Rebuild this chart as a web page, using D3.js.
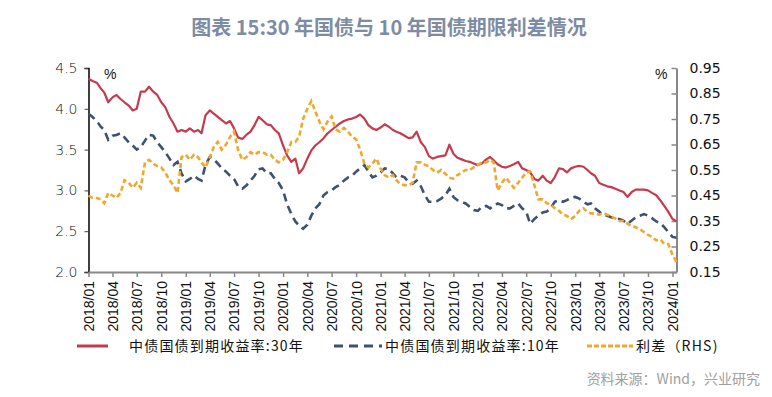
<!DOCTYPE html>
<html>
<head>
<meta charset="utf-8">
<script src="https://cdn.jsdelivr.net/npm/d3@7"></script>
<style>
  html, body { margin: 0; padding: 0; background: #fff; }
  svg text { font-family: "Liberation Sans", Arial, sans-serif; }
  .cjk { font-family: "Noto Sans CJK SC", sans-serif; }
</style>
</head>
<body>
<div id="chart"></div>
<script>
// half-monthly observations, 2018/01/01 .. 2024/01/16
const START = new Date(2018, 0, 1);
const END = new Date(2024, 0, 16);

const yield30 = [
  4.37,4.34,4.32,4.25,4.20,4.08,4.14,4.17,4.12,4.08,4.04,3.98,
  4.00,4.21,4.21,4.27,4.21,4.17,4.08,4.02,3.90,3.82,3.72,3.74,
  3.72,3.76,3.72,3.74,3.70,3.92,3.98,3.94,3.90,3.86,3.82,3.85,
  3.76,3.65,3.63,3.68,3.72,3.80,3.90,3.86,3.81,3.80,3.74,3.70,
  3.55,3.43,3.35,3.39,3.21,3.27,3.39,3.49,3.55,3.59,3.64,3.70,
  3.74,3.78,3.82,3.85,3.87,3.88,3.90,3.93,3.88,3.80,3.76,3.74,
  3.77,3.81,3.78,3.74,3.72,3.70,3.67,3.64,3.65,3.72,3.59,3.53,
  3.42,3.39,3.41,3.42,3.43,3.56,3.45,3.40,3.38,3.36,3.35,3.33,
  3.31,3.33,3.38,3.41,3.37,3.32,3.29,3.28,3.30,3.32,3.35,3.27,
  3.25,3.22,3.14,3.12,3.18,3.12,3.09,3.16,3.27,3.26,3.22,3.27,
  3.29,3.30,3.29,3.25,3.21,3.18,3.09,3.07,3.05,3.04,3.02,3.00,
  2.98,2.92,2.98,3.01,3.01,3.01,3.00,2.97,2.94,2.88,2.81,2.74,
  2.65,2.62
];

const yield10 = [
  3.94,3.90,3.85,3.78,3.74,3.62,3.67,3.68,3.70,3.65,3.59,3.55,
  3.50,3.53,3.61,3.68,3.67,3.59,3.53,3.47,3.39,3.31,3.35,3.21,
  3.11,3.14,3.18,3.14,3.12,3.31,3.41,3.38,3.33,3.27,3.23,3.18,
  3.14,3.05,3.02,3.06,3.12,3.18,3.26,3.27,3.21,3.21,3.14,3.09,
  3.00,2.83,2.71,2.62,2.57,2.53,2.58,2.69,2.78,2.83,2.94,2.98,
  3.00,3.04,3.07,3.12,3.16,3.18,3.23,3.27,3.31,3.23,3.16,3.18,
  3.22,3.27,3.26,3.21,3.16,3.18,3.16,3.10,3.08,3.12,3.05,2.94,
  2.86,2.86,2.87,2.90,2.94,3.02,2.92,2.88,2.86,2.84,2.80,2.76,
  2.75,2.80,2.81,2.78,2.81,2.84,2.82,2.78,2.78,2.81,2.84,2.78,
  2.74,2.59,2.65,2.69,2.73,2.74,2.78,2.86,2.88,2.86,2.88,2.91,
  2.92,2.90,2.86,2.83,2.84,2.78,2.74,2.70,2.69,2.67,2.65,2.65,
  2.63,2.59,2.63,2.67,2.69,2.71,2.69,2.66,2.62,2.60,2.55,2.49,
  2.43,2.42
];

const spread = [
  0.45,0.44,0.44,0.435,0.42,0.46,0.45,0.44,0.46,0.51,0.50,0.48,
  0.50,0.48,0.58,0.59,0.575,0.565,0.56,0.54,0.51,0.49,0.46,0.60,
  0.61,0.59,0.61,0.60,0.58,0.56,0.60,0.64,0.66,0.63,0.65,0.68,
  0.70,0.63,0.59,0.60,0.62,0.61,0.62,0.62,0.61,0.61,0.59,0.58,
  0.59,0.62,0.66,0.66,0.68,0.75,0.79,0.82,0.78,0.74,0.71,0.74,
  0.76,0.71,0.70,0.715,0.70,0.68,0.67,0.63,0.575,0.56,0.575,0.595,
  0.555,0.53,0.52,0.53,0.51,0.495,0.49,0.49,0.50,0.58,0.58,0.57,
  0.565,0.55,0.54,0.55,0.535,0.52,0.516,0.53,0.54,0.55,0.55,0.56,
  0.57,0.58,0.58,0.59,0.58,0.47,0.50,0.52,0.50,0.48,0.50,0.52,
  0.54,0.545,0.49,0.435,0.435,0.42,0.415,0.40,0.39,0.375,0.37,0.357,
  0.37,0.39,0.40,0.385,0.38,0.38,0.375,0.38,0.375,0.366,0.36,0.35,
  0.35,0.34,0.33,0.326,0.317,0.307,0.296,0.287,0.274,0.278,0.26,0.26,
  0.218,0.19
];

const leftTicks = [2.0, 2.5, 3.0, 3.5, 4.0, 4.5];
const rightTicks = [0.15, 0.25, 0.35, 0.45, 0.55, 0.65, 0.75, 0.85, 0.95];
const legendLabels = ['中债国债到期收益率:30年', '中债国债到期收益率:10年', '利差（RHS)'];

const COLORS = {
  y30: '#c63a4c',
  y10: '#3f5170',
  spread: '#f3a62a',
  title: '#7d8ca3',
  source: '#a0a0a0',
  axis: '#888'
};

const dates = yield30.map((d, i) => new Date(2018, Math.floor(i / 2), i % 2 ? 16 : 1));

const W = 772, H = 397;
const plot = { left: 88.5, right: 676.5, top: 68, bottom: 272 };

const svg = d3.select('#chart').append('svg')
  .attr('width', W)
  .attr('height', H);

svg.append('text')
  .attr('class', 'cjk')
  .attr('x', 389)
  .attr('y', 35)
  .attr('text-anchor', 'middle')
  .attr('font-size', 20)
  .attr('font-weight', 'bold')
  .attr('fill', COLORS.title)
  .text('图表 15:30 年国债与 10 年国债期限利差情况');

const x = d3.scaleTime()
  .domain([START, END])
  .range([plot.left, plot.right]);

const yL = d3.scaleLinear().domain([2, 4.5]).range([plot.bottom, plot.top]);
const yR = d3.scaleLinear().domain([0.15, 0.95]).range([plot.bottom, plot.top]);

// left axis
const gL = svg.append('g')
  .attr('transform', `translate(${plot.left},0)`)
  .call(d3.axisLeft(yL).tickValues(leftTicks).tickFormat(d3.format('.1f')).tickSize(4).tickPadding(7));
gL.select('.domain').attr('stroke', '#000').attr('stroke-width', 1.5);
gL.selectAll('.tick line').attr('stroke', '#444');
gL.selectAll('.tick text').attr('font-size', 14).attr('fill', '#111')
  .style('font-family', '"DejaVu Sans", sans-serif').attr('font-weight', 300);

// right axis
const gR = svg.append('g')
  .attr('transform', `translate(${plot.right},0)`)
  .call(d3.axisRight(yR).tickValues(rightTicks).tickFormat(d3.format('.2f')).tickSize(0).tickPadding(13));
gR.select('.domain').attr('stroke', COLORS.axis).attr('stroke-width', 2);
gR.selectAll('.tick').append('line')
  .attr('x1', 0).attr('x2', -5)
  .attr('stroke', COLORS.axis).attr('stroke-width', 1.5);
gR.selectAll('.tick text').attr('font-size', 14).attr('fill', '#111')
  .style('font-family', '"DejaVu Sans", sans-serif');

// x axis
const xTicks = d3.timeMonth.every(3).range(START, d3.timeDay.offset(END, 1));
const gX = svg.append('g')
  .attr('transform', `translate(0,${plot.bottom})`)
  .call(d3.axisBottom(x).tickValues(xTicks).tickFormat(d3.timeFormat('%Y/%m')).tickSize(5).tickSizeOuter(0));
gX.select('.domain').attr('stroke', COLORS.axis).attr('stroke-width', 2);
gX.selectAll('.tick line').attr('stroke', COLORS.axis).attr('stroke-width', 1.5);
gX.selectAll('.tick text')
  .attr('font-size', 14)
  .attr('fill', '#111')
  .attr('text-anchor', 'end')
  .attr('transform', 'rotate(-90)')
  .attr('x', -9)
  .attr('y', 0)
  .attr('dy', '0.35em');

// unit labels
svg.append('text').attr('x', 104).attr('y', 79).attr('font-size', 14).attr('fill', '#111').text('%');
svg.append('text').attr('x', 655).attr('y', 79).attr('font-size', 14).attr('fill', '#111').text('%');

// series
const lineLeft = d3.line().x((d, i) => x(dates[i])).y(d => yL(d));
const lineRight = d3.line().x((d, i) => x(dates[i])).y(d => yR(d));

svg.append('path')
  .datum(yield30)
  .attr('fill', 'none')
  .attr('stroke', COLORS.y30)
  .attr('stroke-width', 2.2)
  .attr('stroke-linejoin', 'round')
  .attr('d', lineLeft);

svg.append('path')
  .datum(yield10)
  .attr('fill', 'none')
  .attr('stroke', COLORS.y10)
  .attr('stroke-width', 2.6)
  .attr('stroke-dasharray', '8,5')
  .attr('d', lineLeft);

svg.append('path')
  .datum(spread)
  .attr('fill', 'none')
  .attr('stroke', COLORS.spread)
  .attr('stroke-width', 2.6)
  .attr('stroke-dasharray', '5,3')
  .attr('d', lineRight);

// legend
const legendData = [
  { label: legendLabels[0], color: COLORS.y30, dash: null, x: 77, len: 31, gap: 52 },
  { label: legendLabels[1], color: COLORS.y10, dash: '9,6', x: 334, len: 48, gap: 51 },
  { label: legendLabels[2], color: COLORS.spread, dash: '5,2', x: 587, len: 46, gap: 49 }
];

const legendItem = svg.selectAll('.legend-item')
  .data(legendData)
  .enter()
  .append('g')
  .attr('class', 'legend-item')
  .attr('transform', d => `translate(${d.x},346)`);

legendItem.append('line')
  .attr('x1', 0).attr('x2', d => d.len)
  .attr('stroke', d => d.color)
  .attr('stroke-width', 3)
  .attr('stroke-dasharray', d => d.dash);

legendItem.append('text')
  .attr('class', 'cjk')
  .attr('x', d => d.gap)
  .attr('y', 5)
  .attr('font-size', 14)
  .attr('letter-spacing', 1.2)
  .attr('fill', '#111')
  .text(d => d.label);

svg.append('text')
  .attr('class', 'cjk')
  .attr('x', 760)
  .attr('y', 384)
  .attr('text-anchor', 'end')
  .attr('font-size', 14)
  .attr('fill', COLORS.source)
  .text('资料来源：Wind，兴业研究');
</script>
</body>
</html>
